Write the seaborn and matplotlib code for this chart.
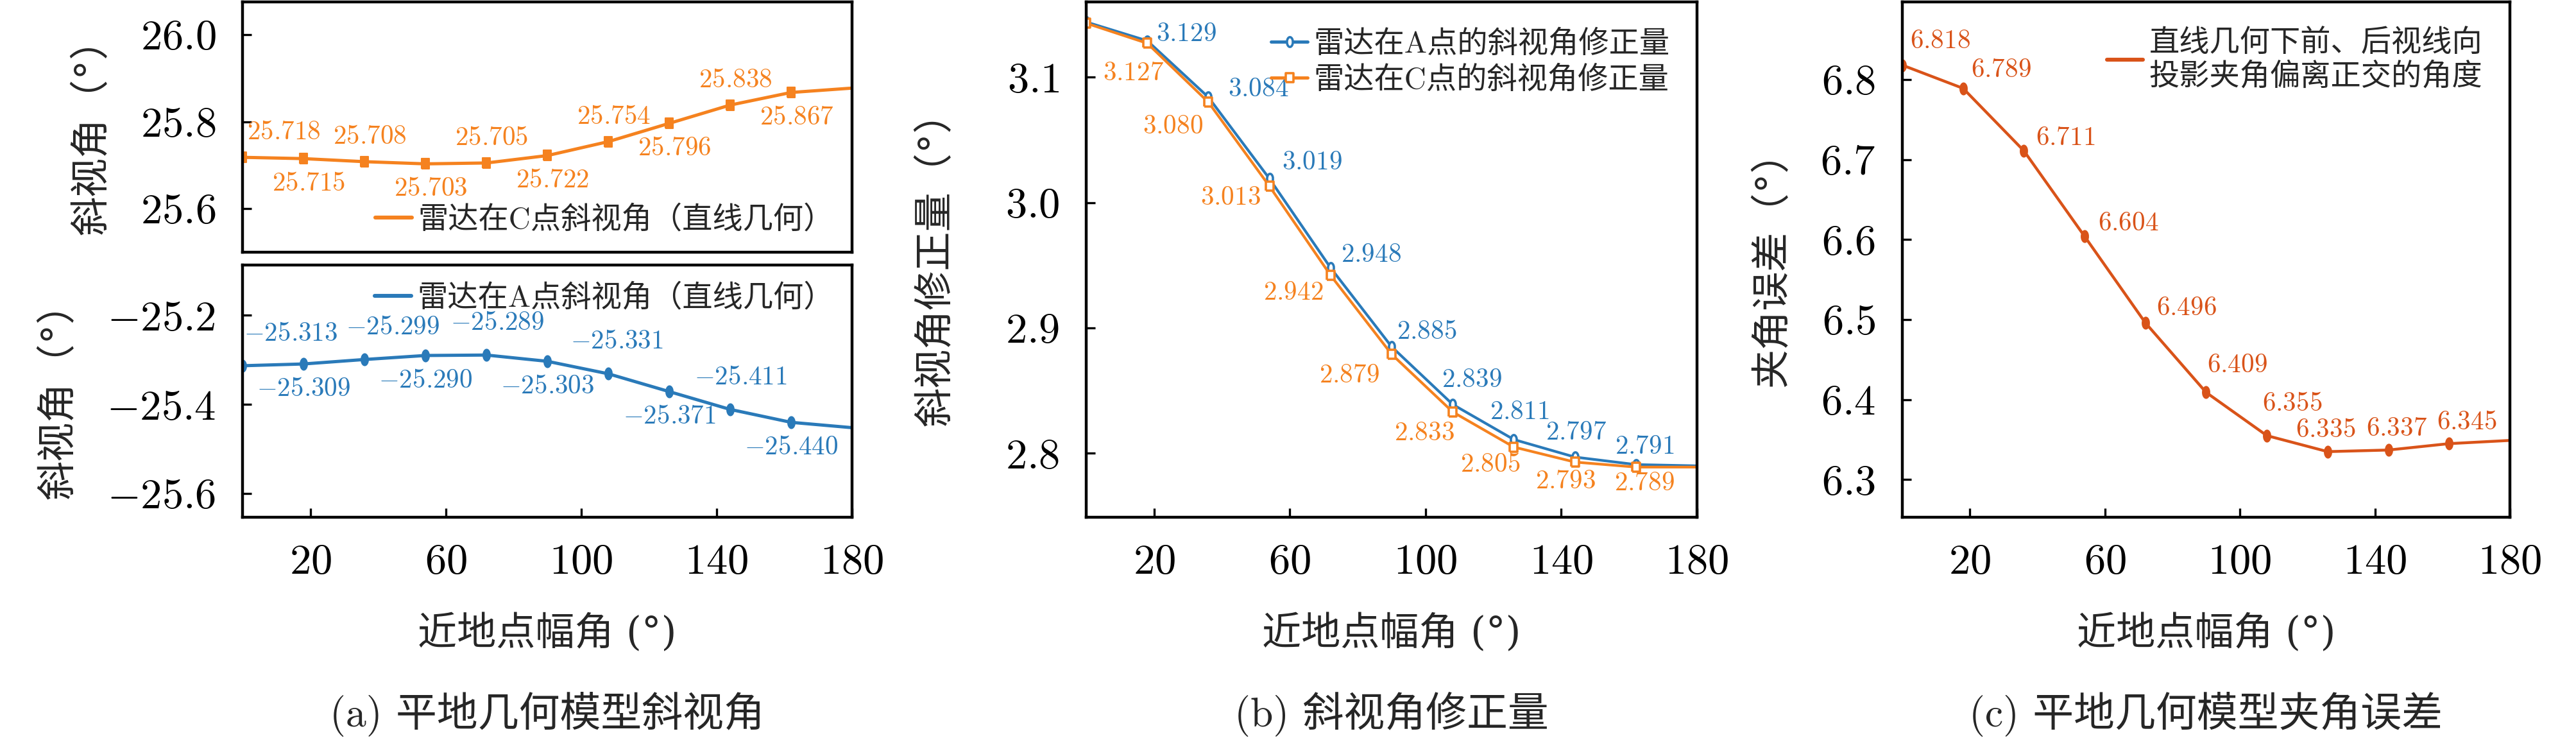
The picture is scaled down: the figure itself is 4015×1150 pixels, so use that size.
import numpy as np
import matplotlib
matplotlib.use('Agg')
import matplotlib.pyplot as plt
from matplotlib.lines import Line2D
from matplotlib.ticker import FuncFormatter
import seaborn as sns

# 近地点幅角 (deg), markers every 18 deg, curve goes on to 180
angle = [0, 18, 36, 54, 72, 90, 108, 126, 144, 162, 180]

# (a) squint angle, flat-earth model
squint_c = [25.718, 25.715, 25.708, 25.703, 25.705, 25.722, 25.754, 25.796, 25.838, 25.867, 25.877]
squint_a = [-25.313, -25.309, -25.299, -25.290, -25.289, -25.303, -25.331, -25.371, -25.411, -25.440, -25.452]

# (b) squint correction
corr_a = [3.144, 3.129, 3.084, 3.019, 2.948, 2.885, 2.839, 2.811, 2.797, 2.791, 2.790]
corr_c = [3.143, 3.127, 3.080, 3.013, 2.942, 2.879, 2.833, 2.805, 2.793, 2.789, 2.789]

# (c) angle error
angle_err = [6.818, 6.789, 6.711, 6.604, 6.496, 6.409, 6.355, 6.335, 6.337, 6.345, 6.349]

xticks = [20, 60, 100, 140, 180]

BLUE = '#2a7ab9'
ORANGE = '#f5821f'
RED = '#d95319'

sns.set_theme(style='ticks')
plt.rcParams['font.family'] = ['cmr10', 'Noto Sans CJK SC']
plt.rcParams['mathtext.fontset'] = 'cm'
plt.rcParams['axes.unicode_minus'] = True
plt.rcParams['axes.linewidth'] = 1.6
plt.rcParams['axes.edgecolor'] = 'black'

# labels with the degree sign: cmr10 has no proper °
LAB_FONT = ['DejaVu Serif', 'Noto Sans CJK SC']

fig = plt.figure(figsize=(20.08, 5.75), dpi=200)
W, H = 4016, 1150


def box(l, t, r, b):
    return [l / W, 1 - b / H, (r - l) / W, (b - t) / H]


axA1 = fig.add_axes(box(378, 3, 1328, 393))
axA2 = fig.add_axes(box(378, 413, 1328, 806))
axB = fig.add_axes(box(1693, 3, 2645, 806))
axC = fig.add_axes(box(2965, 3, 3912, 806))

t = np.linspace(0, 2 * np.pi, 41)
ellipse = np.column_stack([0.6 * np.cos(t), np.sin(t)])
rect = [(-0.8, -1), (0.8, -1), (0.8, 1), (-0.8, 1), (-0.8, -1)]
marks = list(range(10))

fmt1 = FuncFormatter(lambda v, p: f'${v:.1f}$')
fmt0 = FuncFormatter(lambda v, p: f'${v:.0f}$')

for ax in [axA1, axA2, axB, axC]:
    ax.set_xlim(0, 180)
    ax.set_xticks(xticks)
    ax.xaxis.set_major_formatter(fmt0)
    ax.yaxis.set_major_formatter(fmt1)
    ax.tick_params(direction='in', length=5, width=1.2, labelsize=24, pad=15, colors='black')
    for s in ax.spines.values():
        s.set_linewidth(1.6)
        s.set_color('black')

LBL = 14.8

# ---- (a) top: radar at C
sns.lineplot(x=angle, y=squint_c, ax=axA1, color=ORANGE, lw=1.8, marker=rect, ms=5.5,
             markevery=marks, mec=ORANGE, legend=False)
axA1.set_ylim(25.5, 26.075)
axA1.set_yticks([25.6, 25.8, 26.0])
axA1.tick_params(axis='x', length=0, labelbottom=False)
for i, v in enumerate(squint_c[:10]):
    dy = 14 if i % 2 == 0 else -14
    dx = 23 if i == 0 else 3
    axA1.annotate(f'${v:.3f}$', (angle[i], v), xytext=(dx, dy), textcoords='offset points',
                  ha='center', va='center', fontsize=LBL, color=ORANGE)
axA1.legend(handles=[Line2D([], [], color=ORANGE, lw=2.2)], labels=['雷达在C点斜视角（直线几何）'],
            loc='lower right', frameon=False, fontsize=17, handlelength=1.2,
            handletextpad=0.2, borderaxespad=0.2)
axA1.set_ylabel('斜视角（°）', fontsize=22, labelpad=16, family=LAB_FONT)

# ---- (a) bottom: radar at A
sns.lineplot(x=angle, y=squint_a, ax=axA2, color=BLUE, lw=1.8, marker=ellipse, ms=6.5,
             markevery=marks, mec=BLUE, legend=False)
axA2.set_ylim(-25.653, -25.087)
axA2.set_yticks([-25.6, -25.4, -25.2])
dx_up = [27, 0, 16, 0, 6, 0, 5, 0, 6, 0]
for i, v in enumerate(squint_a[:10]):
    dy = 18 if i % 2 == 0 else -14
    axA2.annotate(f'${v:.3f}$', (angle[i], v), xytext=(dx_up[i], dy), textcoords='offset points',
                  ha='center', va='center', fontsize=LBL, color=BLUE)
axA2.legend(handles=[Line2D([], [], color=BLUE, lw=2.2)], labels=['雷达在A点斜视角（直线几何）'],
            loc='upper right', frameon=False, fontsize=17, handlelength=1.2,
            handletextpad=0.2, borderaxespad=0.2)
axA2.set_ylabel('斜视角（°）', fontsize=22, labelpad=16, family=LAB_FONT)
axA2.set_xlabel('近地点幅角 (°)', fontsize=22, labelpad=18, family=LAB_FONT)

# ---- (b) correction
sns.lineplot(x=angle, y=corr_a, ax=axB, color=BLUE, lw=1.5, marker=ellipse, ms=5.5,
             markevery=marks, mfc='white', mec=BLUE, mew=1.3, legend=False)
sns.lineplot(x=angle, y=corr_c, ax=axB, color=ORANGE, lw=1.5, marker=rect, ms=5,
             markevery=marks, mfc='white', mec=ORANGE, mew=1.3, legend=False)
axB.set_ylim(2.749, 3.16)
axB.set_yticks([2.8, 2.9, 3.0, 3.1])
off_a = [(61, 10), (78, 12), (66, 25), (63, 20), (55, 23), (30, 38), (9, 43), (2, 38), (13, 28)]
off_c = [(-22, -47), (-55, -38), (-61, -18), (-58, -27), (-66, -33), (-44, -33), (-37, -28), (-15, -30), (13, -25)]
for i in range(1, 10):
    dx, dy = off_a[i - 1]
    axB.annotate(f'${corr_a[i]:.3f}$', (angle[i], corr_a[i]), xytext=(dx * 0.36, dy * 0.36),
                 textcoords='offset points', ha='center', va='center', fontsize=LBL, color=BLUE)
    dx, dy = off_c[i - 1]
    axB.annotate(f'${corr_c[i]:.3f}$', (angle[i], corr_c[i]), xytext=(dx * 0.36, dy * 0.36),
                 textcoords='offset points', ha='center', va='center', fontsize=LBL, color=ORANGE)
hb = [Line2D([], [], color=BLUE, lw=1.8, marker=ellipse, ms=5.5, mfc='white', mec=BLUE, mew=1.3),
      Line2D([], [], color=ORANGE, lw=1.8, marker=rect, ms=5, mfc='white', mec=ORANGE, mew=1.3)]
axB.legend(handles=hb, labels=['雷达在A点的斜视角修正量', '雷达在C点的斜视角修正量'],
           loc='upper right', frameon=False, fontsize=17, handlelength=1.2,
           handletextpad=0.2, borderaxespad=0.5, labelspacing=0.25)
axB.set_ylabel('斜视角修正量（°）', fontsize=22, labelpad=28, family=LAB_FONT)
axB.set_xlabel('近地点幅角 (°)', fontsize=22, labelpad=18, family=LAB_FONT)

# ---- (c) angle error
sns.lineplot(x=angle, y=angle_err, ax=axC, color=RED, lw=1.6, marker=ellipse, ms=6.5,
             markevery=marks, mec=RED, legend=False)
axC.set_ylim(6.253, 6.897)
axC.set_yticks([6.3, 6.4, 6.5, 6.6, 6.7, 6.8])
off_e = [(59, 37), (59, 28), (65, 20), (68, 20), (64, 23), (48, 42), (40, 50), (-3, 33), (13, 33), (27, 33)]
for i in range(10):
    dx, dy = off_e[i]
    axC.annotate(f'${angle_err[i]:.3f}$', (angle[i], angle_err[i]), xytext=(dx * 0.36, dy * 0.36),
                 textcoords='offset points', ha='center', va='center', fontsize=LBL, color=RED)
axC.legend(handles=[Line2D([], [], color=RED, lw=2.2)],
           labels=['直线几何下前、后视线向\n投影夹角偏离正交的角度'],
           loc='upper right', frameon=False, fontsize=17, handlelength=1.2,
           handletextpad=0.2, borderaxespad=0.5)
axC.set_ylabel('夹角误差（°）', fontsize=22, labelpad=16, family=LAB_FONT)
axC.set_xlabel('近地点幅角 (°)', fontsize=22, labelpad=18, family=LAB_FONT)

# captions
for ax, cap in [(axA2, '(a) 平地几何模型斜视角'), (axB, '(b) 斜视角修正量'), (axC, '(c) 平地几何模型夹角误差')]:
    pos = ax.get_position()
    fig.text((pos.x0 + pos.x1) / 2, 1 - 1113 / H, cap, ha='center', va='center', fontsize=23)

fig.savefig('out.png', dpi=200)
